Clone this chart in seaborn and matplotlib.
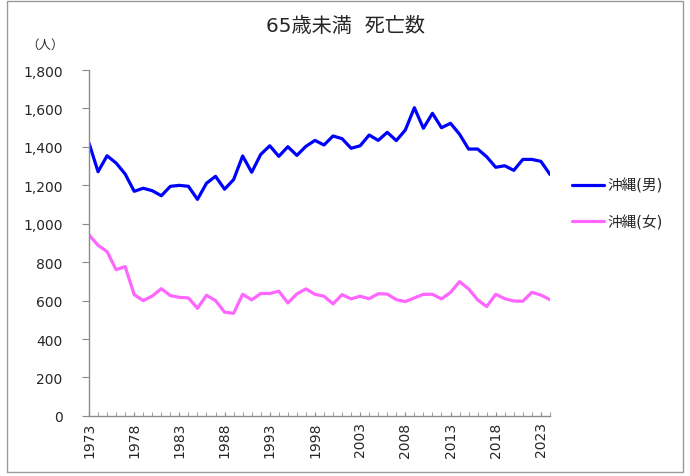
import pandas as pd
import matplotlib
matplotlib.use("Agg")
import matplotlib.pyplot as plt
import seaborn as sns
from matplotlib.patches import Rectangle
from matplotlib.ticker import MultipleLocator, FuncFormatter

# 沖縄 65歳未満 死亡数
years = list(range(1973, 2025))
male = [1420, 1271, 1354, 1316, 1259, 1169, 1185, 1172, 1146, 1195,
        1200, 1195, 1127, 1211, 1247, 1180, 1230, 1353, 1268, 1361,
        1406, 1351, 1401, 1356, 1403, 1434, 1410, 1457, 1443, 1393,
        1406, 1462, 1434, 1476, 1433, 1488, 1604, 1497, 1575, 1500,
        1523, 1466, 1389, 1389, 1349, 1294, 1302, 1278, 1335, 1335,
        1325, 1257]
female = [942, 888, 855, 761, 777, 631, 600, 624, 662, 626,
          617, 614, 560, 628, 600, 540, 534, 633, 604, 637,
          637, 649, 588, 635, 661, 633, 623, 583, 631, 609,
          623, 610, 636, 634, 605, 595, 614, 633, 633, 609,
          643, 699, 661, 604, 569, 633, 610, 598, 597, 643,
          629, 605]
series_names = ["沖縄(男)", "沖縄(女)"]
colors = ["#0000FF", "#FF66FF"]

df = pd.DataFrame({
    "year": years * 2,
    "deaths": male + female,
    "series": [series_names[0]] * len(years) + [series_names[1]] * len(years),
})

sns.set_style("white")
plt.rcParams['font.family'] = ['DejaVu Sans', 'Noto Sans CJK JP']

fig = plt.figure(figsize=(6.9, 4.77), dpi=100)
ax = fig.add_axes([0.129, 0.126, 0.668, 0.725])

sns.lineplot(data=df, x="year", y="deaths", hue="series",
             palette=colors, linewidth=2.3, ax=ax)

ax.set_xlim(1973, 2024)
ax.set_ylim(0, 1800)
ax.yaxis.set_major_locator(MultipleLocator(200))
ax.yaxis.set_major_formatter(FuncFormatter(lambda v, p: f"{int(v):,}"))
ax.set_xticks(list(range(1973, 2025, 5)))
ax.xaxis.set_minor_locator(MultipleLocator(1))
ax.set_xlabel("")
ax.set_ylabel("")

for s in ["top", "right"]:
    ax.spines[s].set_visible(False)
for s in ["left", "bottom"]:
    ax.spines[s].set_color("#8c8c8c")
    ax.spines[s].set_linewidth(1.0)

ax.tick_params(axis="y", direction="out", length=5, color="#8c8c8c",
               labelsize=10, pad=14, left=True)
ax.tick_params(axis="x", which="both", direction="in", length=3,
               color="#8c8c8c", labelsize=10, rotation=90, bottom=True)
ax.xaxis.set_tick_params(pad=4)

ax.legend(loc="center left", bbox_to_anchor=(1.02, 0.614), frameon=False,
          fontsize=10.5, handlelength=2.2, handletextpad=0.2,
          labelspacing=1.45)

fig.text(0.5, 0.945, "65歳未満  死亡数", ha="center", va="center", fontsize=14.5)
fig.text(0.065, 0.905, "（人）", ha="center", va="center", fontsize=9)

fig.patches.append(Rectangle((0.010, 0.008), 0.980, 0.988, transform=fig.transFigure,
                             fill=False, edgecolor="#9a9a9a", linewidth=1.0))

fig.savefig("out.png", dpi=100)
